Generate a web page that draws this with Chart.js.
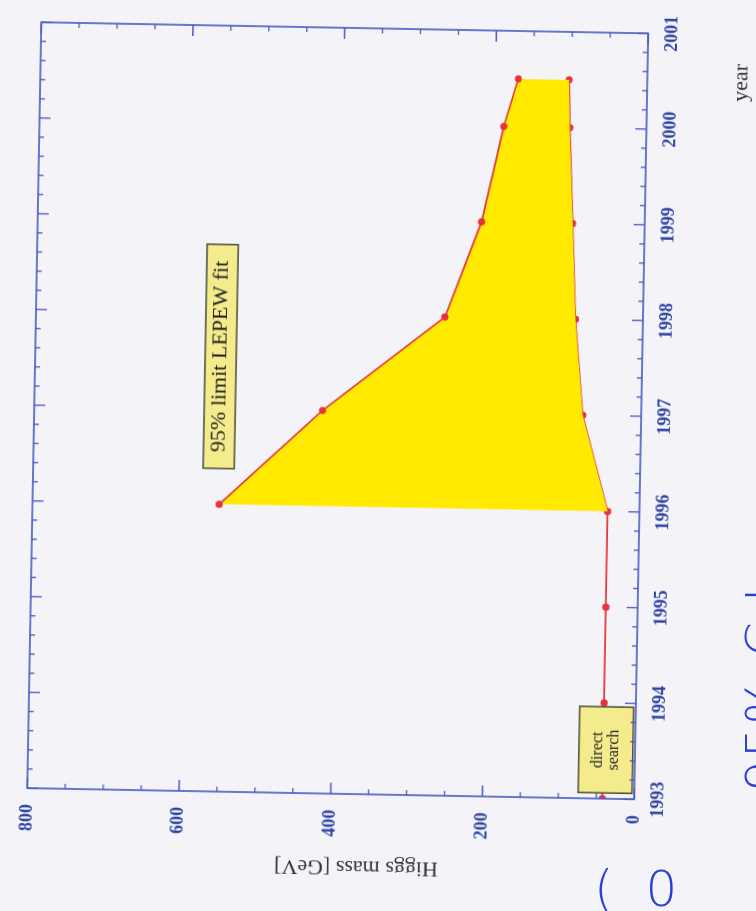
<!DOCTYPE html>
<html>
<head>
<meta charset="utf-8">
<script src="https://cdn.jsdelivr.net/npm/chart.js@4.4.0/dist/chart.umd.min.js"></script>
<style>
  html, body { margin: 0; padding: 0; width: 756px; height: 911px; overflow: hidden; background: #f4f4f8; }
  /* the sheet is laid out landscape and turned onto the page */
  #sheet { position: absolute; left: -77.5px; top: 72.5px; width: 911px; height: 756px;
           transform: rotate(-88.95deg); transform-origin: 50% 50%; }
  /* pen notes written beside the plot, running off the page edge */
  .pen { position: absolute; white-space: nowrap; color: #2c40d8; line-height: 1;
         font: 200 50px "DejaVu Sans", sans-serif; }
  #pen1 { left: 594px; top: 860px; letter-spacing: 8px; }
  #pen2 { left: 735px; top: 792px; transform: rotate(-90deg); transform-origin: 0 0; letter-spacing: 2px; }
</style>
</head>
<body>
<div id="sheet"><canvas id="higgs" width="911" height="756"></canvas></div>
<div class="pen" id="pen1">( 0</div>
<div class="pen" id="pen2">95% C.L</div>
<script>
// lower edge: direct search limit
const searchYears = [1993, 1994, 1995, 1996, 1997, 1998, 1999, 2000, 2000.5];
const searchMass  = [42, 42, 42, 42, 77, 89, 95, 101, 103];
// upper edge: 95% limit from the LEPEW fit
const fitYears = [1996, 1997, 1998, 1999, 2000, 2000.5];
const fitMass  = [554, 420, 261, 215, 188, 170];

const yearTicks = [1993, 1994, 1995, 1996, 1997, 1998, 1999, 2000, 2001];
const massTicks = [0, 200, 400, 600, 800];

const AXIS_BLUE = '#4657c2';
const LABEL_BLUE = '#3043a4';
const RED = '#e5333b';
const SERIF = '"Liberation Serif", "Times New Roman", serif';

// text boxes, anchored in data units
const notes = [
    { lines: ['95% limit LEPEW fit'], x0: 1996.375, x1: 1998.715, y0: 576, y1: 535, size: 22 },
    { lines: ['direct', 'search'], x0: 1993.06, x1: 1993.96, y0: 74, y1: 3, size: 16 }
];

const notesPlugin = {
    id: 'notes',
    afterDatasetsDraw(chart) {
        const { ctx, scales: { x, y } } = chart;
        ctx.save();
        notes.forEach(n => {
            const l = x.getPixelForValue(n.x0), r = x.getPixelForValue(n.x1);
            const t = y.getPixelForValue(n.y0), b = y.getPixelForValue(n.y1);
            ctx.fillStyle = '#f4ec8c';
            ctx.fillRect(l, t, r - l, b - t);
            ctx.strokeStyle = '#4a4a3a';
            ctx.lineWidth = 1.5;
            ctx.strokeRect(l, t, r - l, b - t);
            ctx.fillStyle = '#222';
            ctx.font = n.size + 'px ' + SERIF;
            ctx.textAlign = 'center';
            ctx.textBaseline = 'middle';
            const lh = n.size * 1.05;
            const cy = (t + b) / 2 - (n.lines.length - 1) * lh / 2;
            n.lines.forEach((s, i) => ctx.fillText(s, (l + r) / 2, cy + i * lh));
        });
        ctx.restore();
    }
};

// frame with inward ticks on all four sides, plus the axis titles
const framePlugin = {
    id: 'frame',
    afterDraw(chart) {
        const { ctx, chartArea: a, scales: { x, y } } = chart;
        ctx.save();
        ctx.strokeStyle = AXIS_BLUE;
        ctx.lineWidth = 1.6;
        ctx.strokeRect(a.left, a.top, a.right - a.left, a.bottom - a.top);
        ctx.lineWidth = 1.3;
        ctx.beginPath();
        for (let i = 0; i <= 40; i++) {
            const px = x.getPixelForValue(1993 + i * 0.2);
            const len = i % 5 === 0 ? 11 : 5;
            ctx.moveTo(px, a.bottom); ctx.lineTo(px, a.bottom - len);
            ctx.moveTo(px, a.top); ctx.lineTo(px, a.top + len);
        }
        for (let m = 0; m <= 800; m += 50) {
            const py = y.getPixelForValue(m);
            const len = m % 200 === 0 ? 11 : 5;
            ctx.moveTo(a.left, py); ctx.lineTo(a.left + len, py);
            ctx.moveTo(a.right, py); ctx.lineTo(a.right - len, py);
        }
        ctx.stroke();

        ctx.fillStyle = '#333';
        ctx.textAlign = 'center';
        ctx.textBaseline = 'middle';
        ctx.font = '22px ' + SERIF;
        ctx.fillText('year', x.getPixelForValue(2000.5), a.bottom + 94);
        ctx.translate(39, y.getPixelForValue(365));
        ctx.rotate(-Math.PI / 2);
        ctx.fillText('Higgs mass [GeV]', 0, 0);
        ctx.restore();
    }
};

new Chart(document.getElementById('higgs'), {
    type: 'scatter',
    data: {
        datasets: [
            {
                label: '95% limit LEPEW fit',
                data: fitYears.map((yr, i) => ({ x: yr, y: fitMass[i] })),
                showLine: true,
                borderColor: RED,
                borderWidth: 1.6,
                pointRadius: 3.6,
                pointBackgroundColor: RED,
                pointBorderWidth: 0,
                backgroundColor: '#ffea00',
                fill: { target: 1 }
            },
            {
                label: 'direct search',
                data: searchYears.map((yr, i) => ({ x: yr, y: searchMass[i] })),
                showLine: true,
                borderColor: RED,
                borderWidth: 1.6,
                pointRadius: 3.6,
                pointBackgroundColor: RED,
                pointBorderWidth: 0,
                fill: false
            }
        ]
    },
    options: {
        responsive: false,
        animation: false,
        devicePixelRatio: 1,
        layout: { padding: { top: 33, right: 33, left: 0, bottom: 0 } },
        plugins: { legend: { display: false }, tooltip: { enabled: false } },
        scales: {
            x: {
                type: 'linear', min: 1993, max: 2001,
                afterBuildTicks: s => { s.ticks = yearTicks.map(v => ({ value: v })); },
                afterFit: s => { s.height = 116; },
                grid: { display: false, drawTicks: false },
                border: { display: false },
                ticks: {
                    padding: 14, color: LABEL_BLUE,
                    font: { family: SERIF, size: 18, weight: 'bold' },
                    callback: v => String(v)
                }
            },
            y: {
                type: 'linear', min: 0, max: 800,
                afterBuildTicks: s => { s.ticks = massTicks.map(v => ({ value: v })); },
                afterFit: s => { s.width = 112; },
                grid: { display: false, drawTicks: false },
                border: { display: false },
                ticks: {
                    padding: 16, color: LABEL_BLUE,
                    font: { family: SERIF, size: 18, weight: 'bold' }
                }
            }
        }
    },
    plugins: [notesPlugin, framePlugin]
});
</script>
</body>
</html>
